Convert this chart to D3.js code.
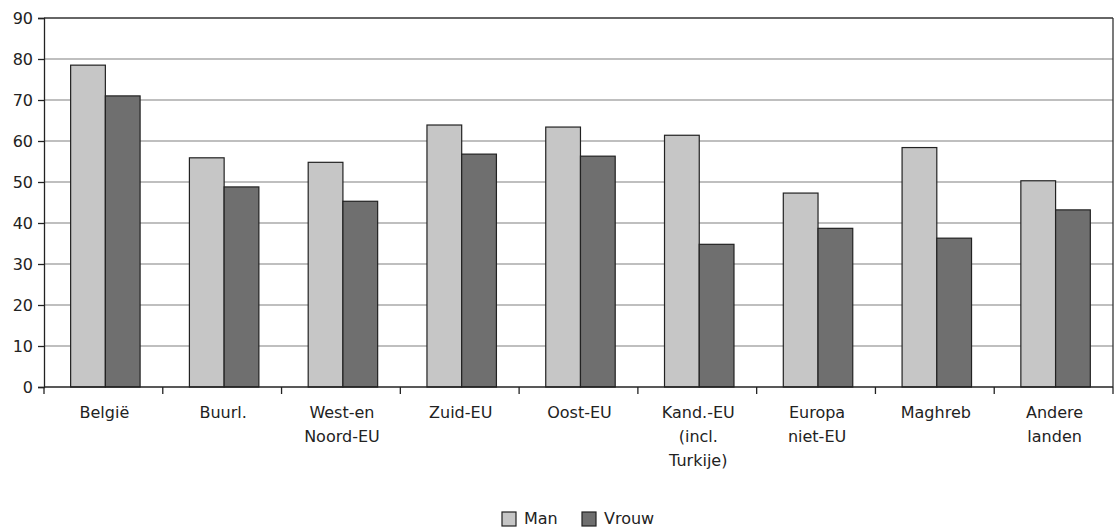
<!DOCTYPE html>
<html><head><meta charset="utf-8">
<script src="https://cdn.jsdelivr.net/npm/d3@7"></script>
<style>
body{margin:0;background:#fff;}
svg text{font-family:"DejaVu Sans",sans-serif;fill:#222;}
</style></head>
<body><svg id="c" width="1118" height="529"></svg>
<script>
const categories = [["België"],["Buurl."],["West-en","Noord-EU"],["Zuid-EU"],["Oost-EU"],["Kand.-EU","(incl.","Turkije)"],["Europa","niet-EU"],["Maghreb"],["Andere","landen"]];
const seriesNames = ["Man","Vrouw"];
const manValues = [78.5,55.9,54.8,63.9,63.4,61.4,47.3,58.4,50.3];
const vrouwValues = [71.0,48.8,45.3,56.8,56.3,34.8,38.7,36.3,43.2];
const yTicks = [0,10,20,30,40,50,60,70,80,90];
const colors = ["#c6c6c6","#6f6f6f"];

const FS = "16px";
const svg = d3.select("#c");
const L=44, R=1113, T=18, B=387;
const x = d3.scaleBand().domain(d3.range(categories.length)).range([L,R]).paddingInner(0).paddingOuter(0);
const xs = d3.scaleBand().domain(seriesNames).range([0,x.bandwidth()]).paddingInner(0).paddingOuter(0.71).align(0.54);
const y = d3.scaleLinear().domain([0,90]).range([B,T]);

// gridlines
svg.append("g").selectAll("line").data(yTicks.filter(d=>d>0&&d<90)).join("line")
 .attr("x1",L).attr("x2",R).attr("y1",d=>y(d)).attr("y2",d=>y(d))
 .attr("stroke","#aaa").attr("stroke-width",1.3);
// frame top/right
svg.append("line").attr("x1",L).attr("x2",R).attr("y1",y(90)).attr("y2",y(90)).attr("stroke","#333").attr("stroke-width",1.3);
svg.append("line").attr("x1",R).attr("x2",R).attr("y1",T).attr("y2",B).attr("stroke","#333").attr("stroke-width",1.3);

const data = categories.map((c,i)=>({i, vals:[manValues[i],vrouwValues[i]]}));
const g = svg.append("g").selectAll("g").data(data).join("g").attr("transform",d=>`translate(${x(d.i)},0)`);
g.selectAll("rect").data(d=>d.vals.map((v,k)=>({k,v}))).join("rect")
 .attr("x",d=>xs(seriesNames[d.k])).attr("width",xs.bandwidth())
 .attr("y",d=>y(d.v)).attr("height",d=>B-y(d.v))
 .attr("fill",d=>colors[d.k]).attr("stroke","#222").attr("stroke-width",1.2);

// y axis
const ya = svg.append("g").attr("transform",`translate(${L},0)`)
 .call(d3.axisLeft(y).tickValues(yTicks).tickSize(6).tickPadding(5).tickFormat(d3.format("d")));
ya.attr("font-family",null).attr("font-size",null);
ya.select(".domain").attr("stroke","#222").attr("stroke-width",1.3);
ya.selectAll(".tick line").attr("stroke","#222").attr("stroke-width",1.3);
ya.selectAll("text").style("font-size",FS).attr("fill","#222");

// x axis
const xa = svg.append("g").attr("transform",`translate(0,${B})`);
xa.append("line").attr("x1",L).attr("x2",R).attr("stroke","#222").attr("stroke-width",1.3);
xa.selectAll(".tk").data(d3.range(categories.length+1)).join("line").attr("class","tk")
 .attr("x1",i=>L+i*x.step()).attr("x2",i=>L+i*x.step()).attr("y1",0).attr("y2",7)
 .attr("stroke","#222").attr("stroke-width",1.3);
const lab = xa.selectAll(".lab").data(categories).join("text").attr("class","lab")
 .attr("x",(d,i)=>x(i)+x.bandwidth()/2+1).attr("y",31).attr("text-anchor","middle").style("font-size",FS);
lab.selectAll("tspan").data(d=>d).join("tspan")
 .attr("x",function(){return this.parentNode.getAttribute("x");})
 .attr("dy",(d,j)=>j===0?0:24).text(d=>d);

// legend
const leg = svg.append("g");
const legX = [502,582];
seriesNames.forEach((s,k)=>{
 leg.append("rect").attr("x",legX[k]).attr("y",512).attr("width",14).attr("height",14)
  .attr("fill",colors[k]).attr("stroke","#222").attr("stroke-width",1.2);
 leg.append("text").attr("x",legX[k]+22).attr("y",524).style("font-size",FS).text(s);
});
</script></body></html>
